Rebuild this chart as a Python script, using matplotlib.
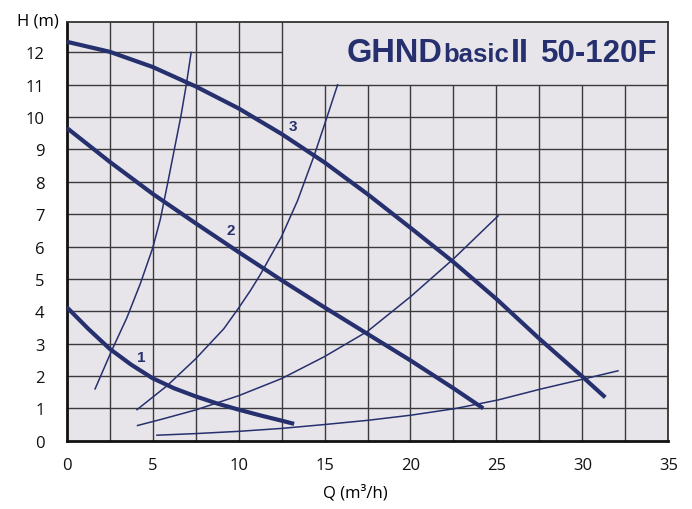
import numpy as np
import matplotlib
matplotlib.use("Agg")
import matplotlib.pyplot as plt

# pump curves (thick)
q1 = [0, 1.25, 2.5, 3.75, 5.0, 6.25, 7.5, 8.75, 10.0, 11.28, 12.5, 13.23]
h1 = [4.13, 3.46, 2.84, 2.35, 1.93, 1.62, 1.37, 1.15, 0.96, 0.78, 0.62, 0.52]

q2 = [0, 2.5, 5.0, 7.5, 10.0, 12.5, 15.0, 17.5, 20.0, 22.5, 24.23]
h2 = [9.67, 8.62, 7.63, 6.72, 5.83, 4.96, 4.12, 3.3, 2.48, 1.62, 1.0]

q3 = [0, 2.5, 5.0, 7.5, 10.0, 12.5, 15.0, 17.5, 20.0, 22.5, 25.0, 27.5, 30.0, 31.33]
h3 = [12.33, 12.02, 11.55, 10.95, 10.27, 9.48, 8.6, 7.62, 6.58, 5.52, 4.38, 3.15, 1.98, 1.34]

# system curves (thin)
qs1 = [1.65, 2.62, 3.5, 4.28, 5.0, 5.45, 5.87, 6.26, 6.65, 6.95, 7.24]
hs1 = [1.6, 2.79, 3.8, 4.85, 5.95, 6.85, 7.95, 9.0, 10.05, 10.98, 12.0]

qs2 = [4.09, 5.84, 7.5, 9.14, 10.0, 10.7, 11.28, 12.49, 13.43, 14.4, 15.08, 15.76]
hs2 = [0.96, 1.70, 2.53, 3.46, 4.1, 4.65, 5.15, 6.3, 7.42, 8.82, 9.9, 11.0]

qs3 = [4.12, 5.5, 7.5, 10.0, 12.5, 15.0, 17.5, 20.0, 22.5, 25.1]
hs3 = [0.47, 0.66, 0.95, 1.39, 1.92, 2.6, 3.38, 4.45, 5.62, 6.95]

qs4 = [5.25, 7.5, 10.02, 12.5, 15.0, 17.51, 20.04, 22.57, 25.1, 27.6, 30.1, 32.07]
hs4 = [0.17, 0.22, 0.29, 0.38, 0.50, 0.63, 0.79, 0.99, 1.26, 1.6, 1.91, 2.16]

curve_labels = ["1", "2", "3"]
label_q = [4.34, 9.53, 13.17]
label_h = [2.6, 6.5, 9.72]

xticks = [0, 5, 10, 15, 20, 25, 30, 35]
yticks = list(range(0, 13))

navy = "#26306e"
bg = "#e7e5ea"

plt.rcParams['font.family'] = ['Open Sans', 'DejaVu Sans']

fig = plt.figure(figsize=(6.92, 5.10), dpi=100)
fig.patch.set_facecolor("white")
ax = fig.add_axes([0.0964, 0.1339, 0.8694, 0.8210])
ax.set_facecolor(bg)
ax.set_xlim(0, 35)
ax.set_ylim(0, 12.94)

# grid: box for the title in the upper right
for x in np.arange(2.5, 35, 2.5):
    top = 12.94 if x <= 12.5 else 11
    ax.vlines(x, 0, top, color="#3a3a3a", lw=1.0, zorder=1)
for y in range(1, 12):
    ax.hlines(y, 0, 35, color="#3a3a3a", lw=1.0, zorder=1)
ax.hlines(12, 0, 12.5, color="#3a3a3a", lw=1.0, zorder=1)

# system curves
for q, h in [(qs1, hs1), (qs2, hs2), (qs3, hs3), (qs4, hs4)]:
    ax.plot(q, h, color=navy, lw=1.1, zorder=3)

# pump curves
for q, h in [(q1, h1), (q2, h2), (q3, h3)]:
    ax.plot(q, h, color=navy, lw=3.0, solid_capstyle="butt",
            solid_joinstyle="round", zorder=4)

for s, xq, yh in zip(curve_labels, label_q, label_h):
    ax.text(xq, yh, s, color=navy, fontsize=11, fontweight="bold",
            ha="center", va="center", family="Liberation Sans", zorder=5)

ax.set_xticks(xticks)
ax.set_yticks(yticks)
ax.tick_params(axis="both", length=0, labelsize=12, colors="#111111")
ax.tick_params(axis="x", pad=12)
ax.tick_params(axis="y", pad=16)

for s in ["left", "bottom"]:
    ax.spines[s].set_linewidth(2.0)
    ax.spines[s].set_color("#111111")
for s in ["top", "right"]:
    ax.spines[s].set_linewidth(1.3)
    ax.spines[s].set_color("#333333")

fig.text(37.5 / 692, 1 - 21 / 510, "H (m)", fontsize=12, ha="center", va="center")
fig.text(355 / 692, 1 - 493 / 510, "Q (m³/h)", fontsize=12, ha="center", va="center")

# title, pieces chained one after another
title_parts = ["GHND", "basic", "II", "50-120F"]
title_sizes = [23.5, 18.5, 23.5, 22.5]
gaps = [0, 0, 2, 12]
fig.canvas.draw()
r = fig.canvas.get_renderer()
px = 347
base_y = ax.transData.transform((0, 11.72))[1]
for txt, sz, g in zip(title_parts, title_sizes, gaps):
    px += g
    xd = ax.transData.inverted().transform((px, base_y))[0]
    t = ax.text(xd, 11.72, txt, fontsize=sz, color=navy, fontweight="bold",
                family="Liberation Sans", va="baseline", ha="left", zorder=5)
    px = t.get_window_extent(renderer=r).x1

fig.savefig("out.png", dpi=100)
